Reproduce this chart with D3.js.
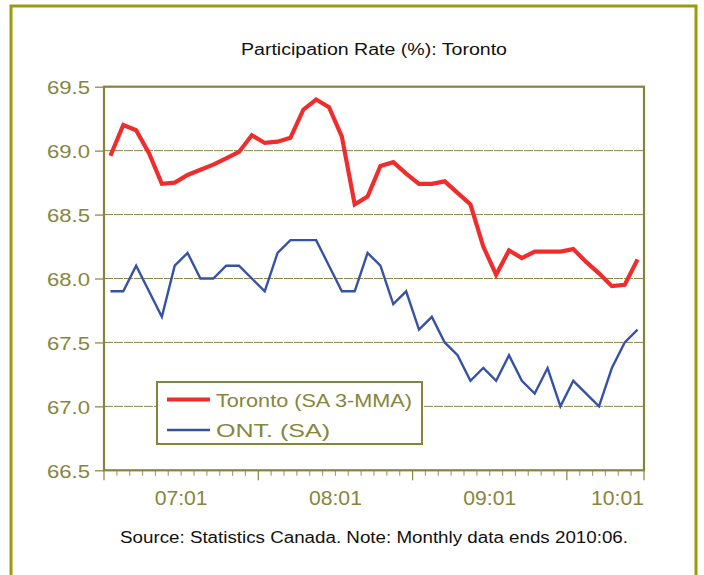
<!DOCTYPE html>
<html><head><meta charset="utf-8">
<script src="https://cdn.jsdelivr.net/npm/d3@7"></script>
<style>html,body{margin:0;padding:0;background:#fff;}svg{display:block;}</style>
</head><body>
<script>
const title = "Participation Rate (%): Toronto";
const source = "Source: Statistics Canada. Note: Monthly data ends 2010:06.";
const categories = [
 "07:01","07:02","07:03","07:04","07:05","07:06","07:07","07:08","07:09","07:10","07:11","07:12",
 "08:01","08:02","08:03","08:04","08:05","08:06","08:07","08:08","08:09","08:10","08:11","08:12",
 "09:01","09:02","09:03","09:04","09:05","09:06","09:07","09:08","09:09","09:10","09:11","09:12",
 "10:01","10:02","10:03","10:04","10:05","10:06"];
const torontoName = "Toronto (SA 3-MMA)";
const torontoValues = [68.96,69.20,69.16,68.98,68.74,68.75,68.81,68.85,68.89,68.94,68.99,69.12,
 69.06,69.07,69.10,69.32,69.40,69.34,69.11,68.58,68.64,68.88,68.91,68.82,
 68.74,68.74,68.76,68.67,68.58,68.25,68.03,68.22,68.16,68.21,68.21,68.21,
 68.23,68.13,68.04,67.94,67.95,68.15];
const ontName = "ONT. (SA)";
const ontValues = [67.9,67.9,68.1,67.9,67.7,68.1,68.2,68.0,68.0,68.1,68.1,68.0,
 67.9,68.2,68.3,68.3,68.3,68.1,67.9,67.9,68.2,68.1,67.8,67.9,
 67.6,67.7,67.5,67.4,67.2,67.3,67.2,67.4,67.2,67.1,67.3,67.0,
 67.2,67.1,67.0,67.3,67.5,67.6];
const yTicks = [66.5,67.0,67.5,68.0,68.5,69.0,69.5];
const xTickLabels = ["07:01","08:01","09:01","10:01"];

const W = 704, H = 575;
const olive = "#85853a", textOlive = "#86863c";
const STRETCH = 1.2;
const svg = d3.select("body").append("svg").attr("width", W).attr("height", H);

function stretch(sel, target) {
  sel.each(function(){
    const n = this.getComputedTextLength();
    const t = target != null ? target : n * STRETCH;
    d3.select(this).attr("textLength", t).attr("lengthAdjust", "spacingAndGlyphs");
  });
  return sel;
}

// outer border
svg.append("rect").attr("x", 11).attr("y", 6).attr("width", 685).attr("height", 620)
  .attr("fill", "none").attr("stroke", "#9c9c0a").attr("stroke-width", 3);

const pLeft = 104, pRight = 644, pTop = 86.7, pBottom = 470.3;
const x = d3.scaleBand().domain(categories).range([pLeft, pRight]).padding(0);
const y = d3.scaleLinear().domain([66.5, 69.5]).range([pBottom, pTop]);
const cx = c => x(c) + x.bandwidth() / 2;

// gridlines
svg.append("g").selectAll("line").data(yTicks.filter(v => v > 66.5 && v < 69.5)).join("line")
  .attr("x1", pLeft).attr("x2", pRight).attr("y1", d => y(d)).attr("y2", d => y(d))
  .attr("stroke", "#8b8b45").attr("stroke-width", 1).attr("stroke-dasharray", "9,1");

// y axis
const yAxis = d3.axisLeft(y).tickValues(yTicks).tickFormat(d3.format(".1f")).tickSize(9).tickPadding(5);
const gy = svg.append("g").attr("transform", `translate(${pLeft},0)`).call(yAxis);
gy.select(".domain").remove();
gy.selectAll(".tick line").attr("stroke", olive).attr("stroke-width", 1.2);
gy.selectAll(".tick text").attr("fill", textOlive).attr("font-family", "Arial, 'Liberation Sans', sans-serif")
  .attr("font-size", 19).attr("dy", "0.36em");
stretch(gy.selectAll(".tick text"), 43);

// x axis minor/major ticks
const boundaries = categories.map(c => x(c)).concat([pRight]);
svg.append("g").selectAll("line").data(boundaries).join("line")
  .attr("x1", d => d).attr("x2", d => d).attr("y1", pBottom)
  .attr("y2", (d, i) => (i % 12 === 0 || i === categories.length) ? pBottom + 10 : pBottom + 5.5)
  .attr("stroke", (d, i) => (i % 12 === 0 || i === categories.length) ? olive : "#a5a56a")
  .attr("stroke-width", 1.2);

// x labels
const gx = svg.append("g");
xTickLabels.forEach(lbl => {
  const cxl = x(lbl) + 6 * x.bandwidth();
  const t = gx.append("text").text(lbl).attr("y", 505)
    .attr("fill", textOlive).attr("font-family", "Arial, 'Liberation Sans', sans-serif")
    .attr("font-size", 20).attr("text-anchor", "middle");
  stretch(t, 53);
  t.attr("x", Math.min(cxl, pRight - 53 / 2));
});

// lines
const line = d3.line().x((d, i) => cx(categories[i])).y(d => y(d));
svg.append("path").datum(ontValues).attr("d", line).attr("fill", "none")
  .attr("stroke", "#3652a6").attr("stroke-width", 2.4).attr("stroke-linejoin", "miter");
svg.append("path").datum(torontoValues).attr("d", line).attr("fill", "none")
  .attr("stroke", "#ef2d2d").attr("stroke-width", 4.2).attr("stroke-linejoin", "miter");

// plot border
svg.append("rect").attr("x", pLeft).attr("y", pTop).attr("width", pRight - pLeft).attr("height", pBottom - pTop)
  .attr("fill", "none").attr("stroke", olive).attr("stroke-width", 2.2);

// legend
const lg = svg.append("g");
lg.append("rect").attr("x", 157).attr("y", 382).attr("width", 265).attr("height", 62)
  .attr("fill", "#fff").attr("stroke", olive).attr("stroke-width", 2);
const items = [{name: torontoName, color: "#ef2d2d", w: 4.2, y: 399.5, tw: 196},
               {name: ontName, color: "#3652a6", w: 2.4, y: 430, tw: 114}];
items.forEach(it => {
  lg.append("line").attr("x1", 167).attr("x2", 210).attr("y1", it.y).attr("y2", it.y)
    .attr("stroke", it.color).attr("stroke-width", it.w);
  const t = lg.append("text").text(it.name).attr("x", 216).attr("y", it.y).attr("dy", "0.37em")
    .attr("fill", textOlive).attr("font-family", "Arial, 'Liberation Sans', sans-serif").attr("font-size", 19);
  stretch(t, it.tw);
});

// title & source
stretch(svg.append("text").text(title).attr("x", 374).attr("y", 55).attr("text-anchor", "middle")
  .attr("font-family", "Arial, 'Liberation Sans', sans-serif").attr("font-size", 16).attr("fill", "#111"), 266);
stretch(svg.append("text").text(source).attr("x", 374).attr("y", 543).attr("text-anchor", "middle")
  .attr("font-family", "Arial, 'Liberation Sans', sans-serif").attr("font-size", 16).attr("fill", "#111"), 508);
</script>
</body></html>
